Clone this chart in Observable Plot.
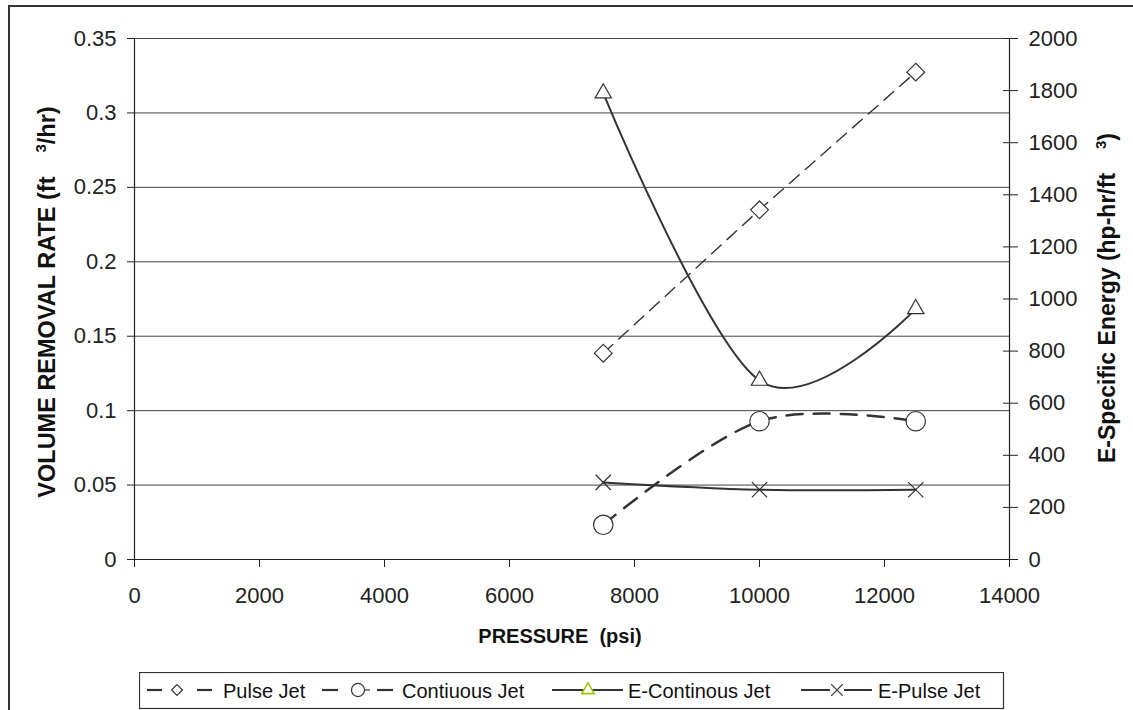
<!DOCTYPE html>
<html><head><meta charset="utf-8">
<script src="https://cdn.jsdelivr.net/npm/d3@7"></script>
<script src="https://cdn.jsdelivr.net/npm/@observablehq/plot@0.6"></script>
<style>
body{margin:0;background:#fff;}
#wrap{position:relative;width:1133px;height:710px;overflow:hidden;background:#fff;font-family:"Liberation Sans",Arial,sans-serif;}
#border{position:absolute;left:8px;top:5px;width:1300px;height:900px;border-left:2px solid #333;border-top:2px solid #333;}
#chart{position:absolute;left:0;top:0;}
#legend{position:absolute;left:139px;top:672px;}
</style></head><body>
<div id="wrap"><div id="border"></div><div id="chart"></div><div id="legend"></div></div>
<script>
// ---- data ----
const pressure = [7500, 10000, 12500];
const pulseJet = [0.1386, 0.2349, 0.3274];          // left axis (ft3/hr)
const continuousJet = [0.0233, 0.0929, 0.0929];     // left axis (ft3/hr)
const eContinuousJet = [1790, 687, 962];            // right axis (hp-hr/ft3)
const ePulseJet = [296, 268, 268];                  // right axis (hp-hr/ft3)
const seriesNames = ["Pulse Jet", "Contiuous Jet", "E-Continous Jet", "E-Pulse Jet"];
const xTicks = [0, 2000, 4000, 6000, 8000, 10000, 12000, 14000];
const yLeftTicks = [0, 0.05, 0.1, 0.15, 0.2, 0.25, 0.3, 0.35];
const yRightTicks = [0, 200, 400, 600, 800, 1000, 1200, 1400, 1600, 1800, 2000];
const xTitle = "PRESSURE  (psi)";
const yLeftTitle = ["VOLUME REMOVAL RATE (ft", "3", "/hr)"];
const yRightTitle = ["E-Specific Energy (hp-hr/ft", "3", ")"];

// secondary axis mapped onto the primary y scale
const toLeft = d3.scaleLinear([0, yRightTicks[yRightTicks.length - 1]], [0, yLeftTicks[yLeftTicks.length - 1]]);
const rows = (name, vals, map) => pressure.map((p, i) => ({series: name, x: p, y: map ? map(vals[i]) : vals[i]}));
const pulse = rows(seriesNames[0], pulseJet);
const cont = rows(seriesNames[1], continuousJet);
const eCont = rows(seriesNames[2], eContinuousJet, toLeft);
const ePulse = rows(seriesNames[3], ePulseJet, toLeft);

const ink = "#333";
const W = 1133, H = 655;
const plot = Plot.plot({
  width: W, height: H,
  marginLeft: 134, marginRight: 124, marginTop: 38, marginBottom: 96,
  style: {fontFamily: '"Liberation Sans", Arial, sans-serif', fontSize: "22px", color: "#222", background: "transparent", overflow: "visible"},
  x: {domain: [xTicks[0], xTicks[xTicks.length - 1]]},
  y: {domain: [yLeftTicks[0], yLeftTicks[yLeftTicks.length - 1]]},
  marks: [
    Plot.ruleY(yLeftTicks.slice(1), {stroke: "#444", strokeWidth: 1}),
    Plot.ruleY([0], {stroke: "#222", strokeWidth: 1.2}),
    Plot.ruleX(d3.extent(xTicks), {stroke: "#222", strokeWidth: 1.2}),
    Plot.axisX(xTicks, {tickSize: 8, tickPadding: 20, tickFormat: d => String(d), label: null}),
    Plot.axisY(yLeftTicks, {anchor: "left", tickSize: 7, tickPadding: 11, tickFormat: d => String(d), label: null}),
    Plot.axisY(yRightTicks.map(toLeft), {anchor: "right", tickSize: 15, dx: -7, fill: "none", label: null}),
    Plot.axisY(yRightTicks.map(toLeft), {anchor: "right", tickSize: 8, tickPadding: 11, stroke: "none", tickFormat: d => String(Math.round(toLeft.invert(d))), label: null}),
    Plot.line(pulse, {x: "x", y: "y", stroke: ink, strokeWidth: 1.4, strokeDasharray: "13,8"}),
    Plot.line(cont, {x: "x", y: "y", curve: "cardinal", stroke: ink, strokeWidth: 2.5, strokeDasharray: "16,11"}),
    Plot.line(eCont, {x: "x", y: "y", curve: "cardinal", stroke: ink, strokeWidth: 2}),
    Plot.line(ePulse, {x: "x", y: "y", curve: "cardinal", stroke: ink, strokeWidth: 2}),
    Plot.dot(pulse, {x: "x", y: "y", symbol: "diamond2", r: 8, fill: "white", stroke: ink, strokeWidth: 1.2}),
    Plot.dot(cont, {x: "x", y: "y", symbol: "circle", r: 9.7, fill: "white", stroke: ink, strokeWidth: 1.2}),
    Plot.dot(eCont, {x: "x", y: "y", symbol: "triangle2", r: 7.8, fill: "white", stroke: ink, strokeWidth: 1.2}),
    Plot.dot(ePulse, {x: "x", y: "y", symbol: "times", r: 7, stroke: ink, strokeWidth: 1.2})
  ]
});
document.getElementById("chart").appendChild(plot);

// axis titles
const svg = d3.select(plot);
const tf = {"font-family": '"Liberation Sans", Arial, sans-serif', "font-weight": "bold", "font-size": "20px", fill: "#111"};
function addTitle(sel) { for (const k in tf) sel.attr(k, tf[k]); return sel; }
addTitle(svg.append("text")).attr("x", 560).attr("y", 643).attr("text-anchor", "middle").style("white-space", "pre").text(xTitle);
function rotTitle(parts, x, y, fs) {
  const t = addTitle(svg.append("text")).attr("font-size", fs + "px").attr("transform", `translate(${x},${y}) rotate(-90)`).attr("text-anchor", "middle");
  t.append("tspan").text(parts[0]);
  t.append("tspan").attr("dx", 24).attr("dy", -9).attr("font-size", "15px").text(parts[1]);
  t.append("tspan").attr("dy", 9).text(parts[2]);
}
rotTitle(yLeftTitle, 55, 302, 23.5);
rotTitle(yRightTitle, 1115, 298, 23);

// legend
const lg = d3.select("#legend").append("svg").attr("width", 866).attr("height", 38);
lg.append("rect").attr("x", 0.5).attr("y", 0.5).attr("width", 864).attr("height", 36).attr("fill", "white").attr("stroke", ink).attr("stroke-width", 1.2);
const cy = 18;
const seg = (x1, x2, w = 2.2) => lg.append("line").attr("x1", x1).attr("x2", x2).attr("y1", cy).attr("y2", cy).attr("stroke", ink).attr("stroke-width", w);
const sym = (type, x, size, color) => lg.append("path").attr("d", d3.symbol(type, size)()).attr("transform", `translate(${x},${cy})`).attr("fill", type === d3.symbolTimes ? "none" : "white").attr("stroke", color || ink).attr("stroke-width", 1.2);
const label = (x, s) => lg.append("text").attr("x", x).attr("y", 26).attr("font-family", '"Liberation Sans", Arial, sans-serif').attr("font-size", "20px").attr("fill", "#111").text(s);
// Pulse Jet
seg(8, 23); sym(d3.symbolDiamond2, 38, 75); seg(58, 73); label(84, seriesNames[0]);
// Contiuous Jet
seg(183, 199); seg(225, 231, 1.2); sym(d3.symbolCircle, 219, 135); seg(238, 254); label(263, seriesNames[1]);
// E-Continous Jet
seg(413, 484, 2); sym(d3.symbolTriangle2, 449, 110, "#9c0").attr("stroke-width", 1.6); label(489, seriesNames[2]);
// E-Pulse Jet
seg(662, 733, 2); lg.append("rect").attr("x", 691).attr("y", cy - 7).attr("width", 14).attr("height", 14).attr("fill", "white"); sym(d3.symbolTimes, 698, 90); label(739, seriesNames[3]);
</script>
</body></html>
